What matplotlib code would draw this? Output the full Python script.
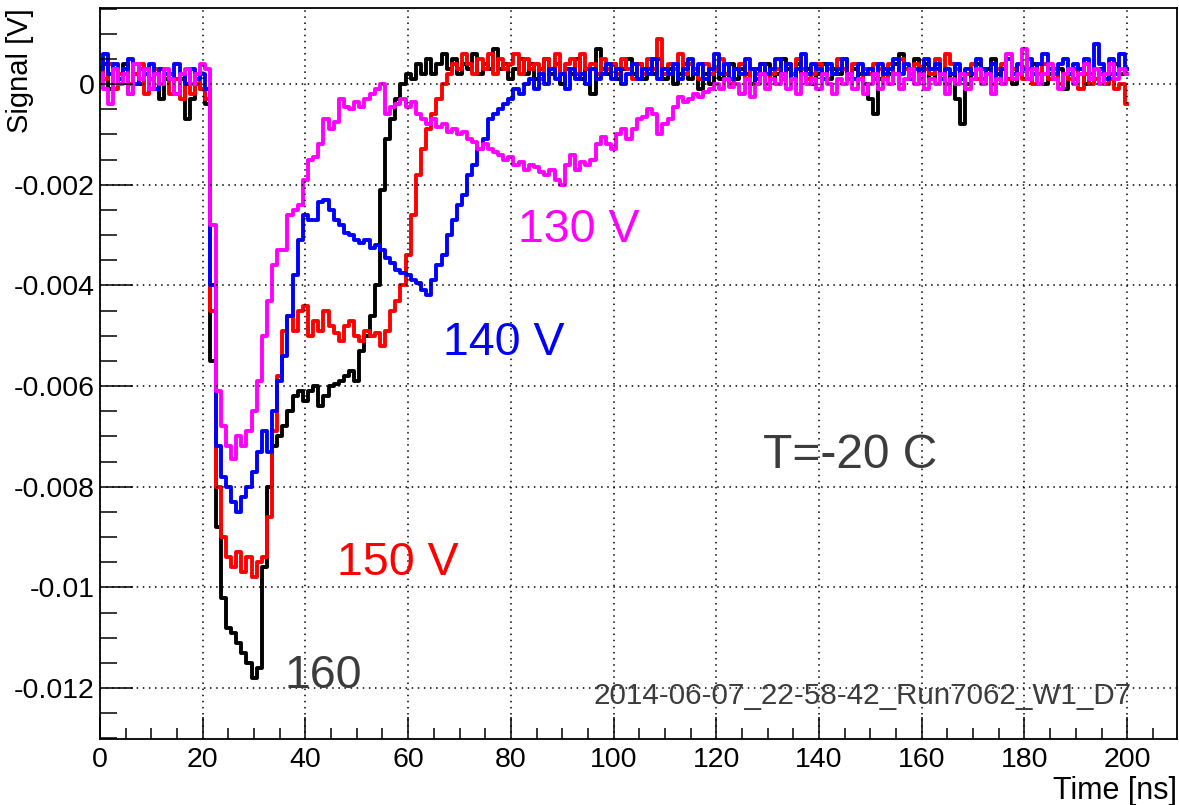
import numpy as np
import matplotlib
matplotlib.use('Agg')
import matplotlib.pyplot as plt
from matplotlib.ticker import MultipleLocator, FuncFormatter

# waveforms, one sample per ns, values in mV
time_ns = np.arange(0, 201)

sig_160 = [0.2, 0.4, -0.1, 0.3, 0.1, 0.4, -0.2, 0.2, 0.0, 0.3,
           -0.1, 0.2, -0.3, 0.1, 0.2, -0.2, 0.1, -0.7, -0.3, 0.0,
           -0.1, -0.4, -5.5, -8.8, -10.2, -10.8, -10.9, -11.1, -11.3, -11.5,
           -11.8, -11.6, -9.6, -8.0, -7.2, -7.0, -6.8, -6.5, -6.2, -6.1,
           -6.3, -6.1, -6.0, -6.4, -6.2, -6.0, -5.95, -5.9, -5.8, -5.7,
           -5.9, -5.3, -5.0, -4.6, -4.0, -2.1, -1.1, -0.7, -0.3, 0.0,
           0.2, 0.1, 0.4, 0.2, 0.5, 0.2, 0.4, 0.6, 0.3, 0.5,
           0.2, 0.4, 0.3, 0.6, 0.2, 0.4, 0.3, 0.7, 0.3, 0.4,
           0.1, 0.3, 0.5, 0.2, 0.4, 0.1, 0.3, 0.5, 0.2, 0.4,
           0.0, 0.3, 0.2, 0.5, 0.1, 0.3, -0.2, 0.7, 0.3, 0.2,
           0.4, 0.1, 0.3, 0.5, 0.2, 0.4, 0.1, 0.3, 0.2, 0.5,
           0.1, 0.3, 0.0, 0.2, 0.4, 0.1, 0.3, -0.1, 0.2, 0.0,
           0.3, 0.1, 0.2, 0.4, 0.1, 0.3, 0.2, 0.0, 0.3, 0.2,
           0.4, 0.1, 0.2, 0.5, 0.3, 0.1, 0.4, 0.2, 0.3, 0.0,
           0.2, 0.4, 0.1, 0.3, 0.2, 0.5, 0.1, 0.3, 0.2, 0.0,
           -0.3, -0.6, 0.1, 0.3, 0.2, 0.4, 0.6, 0.3, 0.2, 0.5,
           0.3, 0.4, 0.1, 0.3, 0.2, 0.0, 0.2, -0.3, -0.8, 0.0,
           0.2, 0.4, 0.1, 0.3, 0.5, 0.2, 0.3, 0.1, 0.0, 0.2,
           0.3, 0.1, 0.4, 0.2, 0.0, 0.2, 0.1, 0.3, -0.1, 0.2,
           0.1, 0.3, 0.0, 0.2, 0.1, 0.3, 0.0, 0.2, 0.4, 0.2,
           0.3]

sig_150 = [0.3, 0.1, 0.4, -0.1, 0.2, 0.3, 0.0, 0.2, 0.4, -0.2,
           0.1, 0.3, 0.0, 0.2, -0.2, 0.1, -0.3, 0.0, -0.2, 0.1,
           -0.1, -0.3, -4.5, -8.0, -9.0, -9.4, -9.6, -9.3, -9.7, -9.4,
           -9.8, -9.5, -9.4, -8.6, -6.9, -5.8, -4.9, -4.6, -4.9, -4.5,
           -4.4, -5.0, -4.7, -4.9, -4.5, -4.8, -4.95, -5.1, -4.8, -4.7,
           -5.0, -5.1, -4.9, -5.0, -4.95, -5.2, -4.9, -4.5, -4.3, -4.0,
           -3.4, -2.6, -1.8, -1.3, -0.9, -0.6, -0.3, 0.0, 0.2, 0.4,
           0.3, 0.6, 0.4, 0.2, 0.5, 0.3, 0.6, 0.2, 0.5, 0.3,
           0.4, 0.6, 0.2, 0.5, 0.3, 0.4, 0.1, 0.5, 0.3, 0.6,
           0.2, 0.4, 0.5, 0.2, 0.6, 0.3, 0.4, 0.2, 0.5, 0.3,
           0.4, 0.2, 0.5, 0.3, 0.1, 0.4, 0.2, 0.5, 0.3, 0.9,
           0.2, 0.4, 0.3, 0.6, 0.2, 0.4, 0.3, 0.1, 0.4, 0.2,
           0.3, 0.5, 0.2, 0.0, 0.3, 0.4, 0.1, 0.3, 0.2, 0.4,
           0.0, 0.2, 0.3, 0.1, 0.4, 0.2, 0.5, 0.3, 0.1, 0.2,
           0.4, 0.1, 0.3, 0.2, 0.5, 0.3, 0.2, 0.4, 0.1, 0.3,
           0.2, 0.4, 0.3, 0.1, 0.4, 0.2, 0.5, 0.3, 0.2, 0.4,
           0.1, 0.3, 0.2, 0.5, 0.2, 0.6, 0.4, 0.3, 0.1, 0.2,
           0.4, 0.1, 0.3, 0.2, 0.0, 0.3, 0.4, 0.1, 0.3, 0.2,
           0.1, 0.3, 0.0, 0.2, 0.4, 0.1, 0.3, 0.0, 0.2, 0.1,
           0.3, -0.1, 0.2, 0.0, 0.1, 0.2, 0.0, 0.1, -0.1, 0.0,
           -0.4]

sig_140 = [0.3, 0.6, 0.2, 0.4, 0.1, 0.3, 0.5, 0.0, 0.3, 0.2,
           0.4, -0.1, 0.3, 0.2, 0.1, 0.4, 0.2, 0.0, 0.3, 0.1,
           0.2, -0.1, -4.0, -7.2, -7.8, -8.0, -8.3, -8.5, -8.2, -8.0,
           -7.7, -7.3, -6.9, -7.3, -6.5, -5.9, -5.4, -4.6, -3.8, -3.1,
           -2.6, -2.7, -2.7, -2.35, -2.3, -2.5, -2.7, -2.8, -2.95, -3.0,
           -3.1, -3.15, -3.1, -3.25, -3.2, -3.3, -3.45, -3.55, -3.7, -3.75,
           -3.8, -3.9, -3.95, -4.1, -4.2, -3.9, -3.6, -3.4, -3.0, -2.7,
           -2.4, -2.2, -1.8, -1.6, -1.3, -1.1, -0.7, -0.6, -0.5, -0.4,
           -0.3, -0.1, -0.2, 0.0, 0.1, -0.1, 0.2, 0.0, 0.3, 0.1,
           0.2, -0.1, 0.3, 0.1, 0.2, 0.0, 0.3, 0.1, 0.2, 0.4,
           0.1, 0.3, 0.0, 0.2, 0.4, 0.1, 0.3, 0.2, 0.5, 0.1,
           0.3, 0.2, 0.4, 0.1, 0.3, 0.5, 0.2, 0.4, 0.1, 0.3,
           0.6, 0.2, 0.4, 0.1, 0.3, 0.2, 0.5, 0.3, 0.1, 0.4,
           0.2, 0.3, 0.5, 0.2, 0.4, 0.1, 0.3, 0.6, 0.2, 0.4,
           0.3, 0.1, 0.4, 0.2, 0.3, 0.5, 0.2, 0.1, 0.4, 0.2,
           0.3, 0.1, 0.4, 0.2, 0.3, 0.5, 0.2, 0.4, 0.1, 0.3,
           0.2, 0.5, 0.3, 0.4, 0.1, 0.3, 0.2, 0.4, 0.1, 0.3,
           0.2, 0.5, 0.3, 0.2, 0.4, 0.1, 0.3, 0.5, 0.2, 0.4,
           0.3, 0.5, 0.2, 0.4, 0.6, 0.3, 0.2, 0.4, 0.5, 0.2,
           0.4, 0.3, 0.5, 0.2, 0.8, 0.4, 0.1, 0.5, 0.2, 0.6,
           0.3]

sig_130 = [0.2, -0.1, -0.4, 0.3, 0.0, 0.2, -0.2, 0.4, 0.1, 0.3,
           -0.1, 0.2, 0.0, 0.3, 0.1, -0.2, 0.2, 0.3, 0.0, 0.2,
           0.4, 0.3, -2.8, -6.1, -6.8, -7.2, -7.45, -7.0, -7.2, -6.9,
           -6.5, -5.9, -5.0, -4.3, -3.6, -3.3, -3.3, -2.6, -2.5, -2.4,
           -1.9, -1.5, -1.45, -1.2, -0.7, -0.9, -0.75, -0.3, -0.45, -0.5,
           -0.35, -0.45, -0.3, -0.2, -0.1, 0.0, -0.6, -0.45, -0.4, -0.3,
           -0.45, -0.35, -0.6, -0.7, -0.8, -0.7, -0.85, -0.8, -0.95, -0.9,
           -1.0, -0.95, -1.1, -1.15, -1.3, -1.2, -1.3, -1.35, -1.4, -1.5,
           -1.45, -1.6, -1.55, -1.7, -1.6, -1.65, -1.75, -1.8, -1.7, -1.9,
           -2.0, -1.6, -1.4, -1.7, -1.55, -1.6, -1.5, -1.2, -1.05, -1.2,
           -1.3, -1.0, -0.9, -1.1, -0.9, -0.7, -0.65, -0.5, -0.6, -1.0,
           -0.8, -0.7, -0.45, -0.25, -0.35, -0.3, -0.2, -0.25, -0.15, -0.1,
           0.0, -0.1, 0.1, -0.05, 0.0, -0.2, 0.1, -0.25, 0.0, 0.2,
           -0.1, 0.1, 0.0, 0.2, -0.1, 0.1, -0.2, 0.2, 0.0, 0.1,
           -0.1, 0.2, 0.0, -0.2, 0.1, 0.0, 0.2, -0.1, 0.1, -0.2,
           0.0, 0.2, -0.1, 0.1, 0.0, 0.2, -0.1, 0.1, 0.3, 0.0,
           0.2, -0.1, 0.1, 0.0, 0.2, -0.2, 0.1, 0.0, 0.2, -0.1,
           0.1, 0.3, 0.0, 0.2, -0.2, 0.1, 0.0, 0.6, 0.1, 0.2,
           0.7, 0.1, 0.3, 0.0, 0.2, 0.4, 0.1, -0.1, 0.2, 0.3,
           0.0, 0.2, 0.4, 0.1, 0.3, 0.0, 0.2, 0.4, 0.1, 0.3,
           0.2]

traces = [(sig_160, 'black'), (sig_150, '#ff0000'),
          (sig_140, '#0000ff'), (sig_130, '#ff00ff')]

plt.rcParams['font.family'] = ['Liberation Sans', 'DejaVu Sans']
plt.rcParams['axes.unicode_minus'] = False

fig = plt.figure(figsize=(11.79, 8.05), dpi=100)
ax = fig.add_axes([100 / 1179, 66 / 805, 1077 / 1179, 731 / 805])

for sig, col in traces:
    ax.plot(time_ns, np.array(sig) * 1e-3, color=col, lw=2.8,
            drawstyle='steps-mid')

ax.set_xlim(0, 209.7)
ax.set_ylim(-13.01e-3, 1.51e-3)

ax.xaxis.set_major_locator(MultipleLocator(20))
ax.xaxis.set_minor_locator(MultipleLocator(5))
ax.yaxis.set_major_locator(MultipleLocator(0.002))
ax.yaxis.set_minor_locator(MultipleLocator(0.0005))
ax.yaxis.set_major_formatter(FuncFormatter(lambda v, p: '%g' % round(v, 4)))

ax.tick_params(axis='both', which='both', direction='in', labelsize=20.5,
               width=1.1, colors='black', top=False, right=False)
ax.tick_params(axis='y', which='major', length=24, pad=4)
ax.tick_params(axis='y', which='minor', length=12)
ax.tick_params(axis='x', which='major', length=16, pad=6)
ax.tick_params(axis='x', which='minor', length=8)

ax.grid(True, which='major', color='black', lw=1.1, linestyle=(0, (1, 3)))
ax.set_axisbelow(False)
for s in ax.spines.values():
    s.set_linewidth(1.3)

ax.set_ylabel('Signal [V]', fontsize=21, loc='top')
ax.yaxis.set_label_coords(-0.061, 1.0)
ax.set_xlabel('Time [ns]', fontsize=22, loc='right')
ax.xaxis.set_label_coords(1.0, -0.05)

ax.text(81.4, -3.14e-3, '130 V', color='#ff00ff', fontsize=33.5, va='baseline')
ax.text(66.8, -5.38e-3, '140 V', color='#0000ff', fontsize=33.5, va='baseline')
ax.text(46.2, -9.75e-3, '150 V', color='#ff0000', fontsize=33.5, va='baseline')
ax.text(36.0, -12.0e-3, '160', color='#3c3c3c', fontsize=33.5, va='baseline')
ax.text(129.1, -7.63e-3, 'T=-20 C', color='#3c3c3c', fontsize=34.5, va='baseline')
ax.text(96.0, -12.31e-3, '2014-06-07_22-58-42_Run7062_W1_D7', color='#3c3c3c',
        fontsize=21.3, va='baseline')

fig.savefig('out.png', dpi=100)
